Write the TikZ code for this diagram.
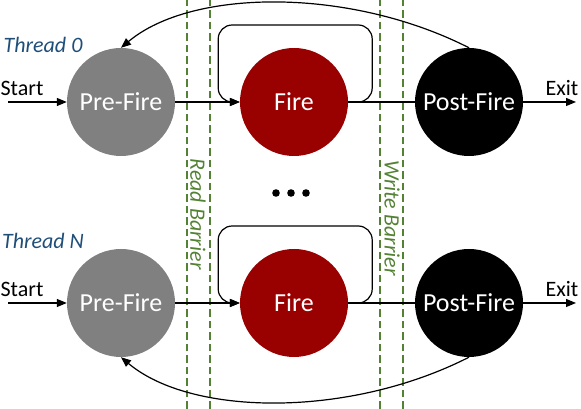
\documentclass[tikz,border=0pt]{standalone}
\usepackage{fontspec}
\setmainfont{Carlito}
\usepackage{xcolor}
\usetikzlibrary{arrows.meta,positioning}
\definecolor{firered}{RGB}{153,0,0}
\definecolor{barriergreen}{RGB}{84,130,53}
\definecolor{threadblue}{RGB}{31,78,121}

\begin{document}
\begin{tikzpicture}[x=1pt,y=1pt,font=\fontsize{22}{26}\selectfont,
  state/.style={circle,minimum size=108pt,inner sep=0pt,text=white,font=\fontsize{26}{30}\selectfont},
  arr/.style={-{Triangle[length=10pt,width=8pt]},line width=1.2pt},
  plain/.style={line width=1.2pt},
  barrier/.style={barriergreen,line width=1.1pt,dash pattern=on 7.5pt off 4pt},
  blabel/.style={barriergreen,font=\fontsize{22}{26}\selectfont\itshape,rotate=-90},
  thread/.style={threadblue,font=\fontsize{22}{26}\selectfont\itshape}]
  \useasboundingbox (0,0) rectangle (581,409);
  % --- Barreras ---
  \draw[barrier] (187,0) -- (187,409);
  \draw[barrier] (210,0) -- (210,409);
  \node[blabel] (readb) at (198,195) {Read Barrier};
  \draw[barrier] (380,0) -- (380,409);
  \draw[barrier] (403,0) -- (403,409);
  \node[blabel] (writeb) at (392,191) {Write Barrier};
  % --- Thread 0 ---
  \node[thread] (th0) at (43,364) {Thread 0};
  \node[state,fill=gray] (pre0) at (121,307) {Pre-Fire};
  \node[state,fill=firered] (fire0) at (294,307) {Fire};
  \node[state,fill=black] (post0) at (469,307) {Post-Fire};
  \coordinate (in0) at (8,307);
  \coordinate (out0) at (576,307);
  \node (start0) at (22,321) {Start};
  \node (exit0) at (562,321) {Exit};
  \draw[arr] (in0) -- (pre0);
  \draw[arr] (pre0) -- (fire0);
  \draw[plain] (fire0) -- (post0);
  \draw[arr] (post0) -- (out0);
  \draw[arr,rounded corners=14pt] (fire0.east) -- ++(24,0) -- ++(0,77) -- ++(-154,0) -- ++(0,-77) -- (fire0.west);
  \draw[arr] (post0.north) .. controls +(153:133) and +(40:93) .. (pre0.north);
  % --- Puntos ---
  \foreach \x in {276,291,306}
    \fill (\x,216) circle (3.8pt);
  % --- Thread N ---
  \node[thread] (thN) at (43,168) {Thread N};
  \node[state,fill=gray] (preN) at (121,106) {Pre-Fire};
  \node[state,fill=firered] (fireN) at (294,106) {Fire};
  \node[state,fill=black] (postN) at (469,106) {Post-Fire};
  \coordinate (inN) at (8,106);
  \coordinate (outN) at (576,106);
  \node (startN) at (22,120) {Start};
  \node (exitN) at (562,120) {Exit};
  \draw[arr] (inN) -- (preN);
  \draw[arr] (preN) -- (fireN);
  \draw[plain] (fireN) -- (postN);
  \draw[arr] (postN) -- (outN);
  \draw[arr,rounded corners=14pt] (fireN.east) -- ++(24,0) -- ++(0,77) -- ++(-154,0) -- ++(0,-77) -- (fireN.west);
  \draw[arr] (postN.south) .. controls +(-153:133) and +(-40:93) .. (preN.south);
\end{tikzpicture}
\end{document}
